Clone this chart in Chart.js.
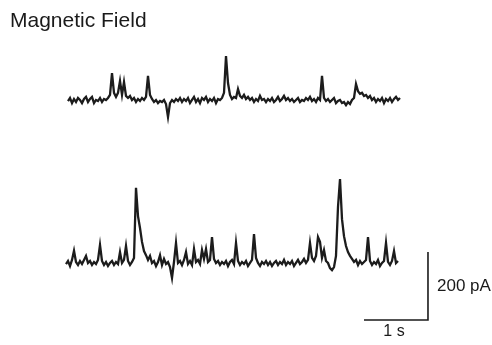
<!DOCTYPE html>
<html>
<head>
<meta charset="utf-8">
<script src="https://cdn.jsdelivr.net/npm/chart.js@4/dist/chart.umd.min.js"></script>
<style>
  html, body { margin: 0; padding: 0; background: #ffffff; }
  #wrap { width: 492px; height: 345px; position: relative; }
</style>
</head>
<body>
<div id="wrap"><canvas id="c" width="492" height="345"></canvas></div>
<script>
// ---- data (time in s, current in pA) ----
const titleText = "Magnetic Field";
const sampleInterval = 0.03125;      // s between samples
const topTraceStart = 0.03125;       // s
const bottomTraceStart = 0;          // s

// upper trace, current relative to its own baseline (pA)
const topTrace = [
  0, 9, -6, 6, -3, 9, 3, -6, 6, 12,
  -3, 6, 12, -6, 3, 0, 9, -3, 6, 3,
  9, 18, 82, 24, 12, 24, 59, 18, 56, 15,
  9, 15, 3, 9, -3, 6, 0, 9, 3, 12,
  74, 18, 6, -3, 3, -6, 0, -3, 3, -9,
  -47, -6, 3, -3, 6, 0, 9, -3, 6, 0,
  9, -6, 3, 12, -3, 6, -6, 9, 3, 12,
  -3, 6, 0, 9, -6, 6, 3, 9, 24, 132,
  53, 18, 6, 12, 9, 35, 15, 9, 18, 6,
  12, 3, 9, -3, 6, 0, 15, 3, 6, -3,
  6, 0, 9, -3, 3, 12, 0, 6, 15, 3,
  9, 0, 6, -3, 3, 9, -3, 3, 0, 9,
  3, 12, 0, 6, -3, 9, 3, 74, 9, 0,
  6, -3, 3, 9, -6, 0, 3, -6, -3, -12,
  -3, -9, 3, 9, 50, 29, 21, 24, 15, 18,
  9, 15, 3, 9, -3, 6, 0, 9, -6, 6,
  0, 9, -3, 6, 12, 3, 9
];

// lower trace, current relative to its own baseline (pA)
const bottomTrace = [
  0, 9, -6, 12, 39, 6, -3, 9, 0, 12,
  24, 3, 9, -3, 6, 0, 12, 56, 9, -3,
  6, -6, 3, 9, -3, 6, 0, 35, 3, 12,
  53, 9, -3, 6, 18, 224, 141, 106, 65, 38,
  26, 12, 24, 3, 9, -6, 6, 26, -3, 15,
  0, 6, -9, -41, 6, 62, 3, 9, -3, 12,
  35, 0, 9, -3, 44, 6, 12, 0, 41, 15,
  44, 6, 12, 79, 15, 3, 9, -3, 6, 0,
  9, -6, 6, 12, 0, 62, 9, -3, 6, 0,
  9, -6, 3, 12, 88, 18, 3, -6, 6, 0,
  9, -3, 6, -6, 3, 9, -3, 6, 0, 12,
  -3, 6, 0, 9, -6, 3, 12, 0, 6, 15,
  3, 12, 62, 18, 9, 24, 79, 65, 18, 41,
  9, 3, -12, -18, -9, 24, 168, 250, 132, 82,
  53, 35, 24, 15, 6, 12, -3, 9, 0, 6,
  12, 79, 9, -3, 6, 0, 12, -6, 3, 9,
  62, 6, -3, 9, 38, 3, 9
];

// scale bar
const scaleBarTime = 1;          // s
const scaleBarCurrent = 200;     // pA
const scaleBarTimeLabel = "1 s";
const scaleBarCurrentLabel = "200 pA";
const scaleBarEndTime = 5.656;   // s (right end of horizontal bar)
const scaleBarBottom = -164.7;   // pA on lower trace axis

// ---- build datasets ----
function toPoints(values, start) {
  return values.map((v, i) => ({ x: start + i * sampleInterval, y: v }));
}

const traceColor = '#1c1c1c';

const scaleBarPoints = [
  { x: scaleBarEndTime - scaleBarTime, y: scaleBarBottom },
  { x: scaleBarEndTime, y: scaleBarBottom },
  { x: scaleBarEndTime, y: scaleBarBottom + scaleBarCurrent }
];

const textPlugin = {
  id: 'texts',
  afterDraw(chart) {
    const ctx = chart.ctx;
    const xs = chart.scales.x, yb = chart.scales.yBottom;
    ctx.save();
    ctx.fillStyle = '#1a1a1a';
    ctx.font = '21px "Liberation Sans", Arial, sans-serif';
    ctx.textAlign = 'left';
    ctx.textBaseline = 'alphabetic';
    ctx.fillText(titleText, 10, 27);

    const bx = xs.getPixelForValue(scaleBarEndTime);
    const byTop = yb.getPixelForValue(scaleBarBottom + scaleBarCurrent);
    const byBot = yb.getPixelForValue(scaleBarBottom);
    ctx.font = '17px "Liberation Sans", Arial, sans-serif';
    ctx.textBaseline = 'middle';
    ctx.fillText(scaleBarCurrentLabel, bx + 9, (byTop + byBot) / 2);

    const bxl = xs.getPixelForValue(scaleBarEndTime - scaleBarTime);
    ctx.textAlign = 'center';
    ctx.textBaseline = 'top';
    ctx.font = '16px "Liberation Sans", Arial, sans-serif';
    ctx.fillText(scaleBarTimeLabel, (bx + bxl) / 2 - 2, byBot + 4);
    ctx.restore();
  }
};

new Chart(document.getElementById('c'), {
  type: 'line',
  data: {
    datasets: [
      {
        data: toPoints(topTrace, topTraceStart),
        yAxisID: 'yTop',
        borderColor: traceColor,
        borderWidth: 2.3
      },
      {
        data: toPoints(bottomTrace, bottomTraceStart),
        yAxisID: 'yBottom',
        borderColor: traceColor,
        borderWidth: 2.3
      },
      {
        data: scaleBarPoints,
        yAxisID: 'yBottom',
        borderColor: '#1a1a1a',
        borderWidth: 1.6,
        borderJoinStyle: 'miter'
      }
    ]
  },
  options: {
    responsive: false,
    animation: false,
    parsing: false,
    layout: { padding: 0 },
    elements: {
      point: { radius: 0, hoverRadius: 0 },
      line: { tension: 0, fill: false }
    },
    plugins: {
      legend: { display: false },
      title: { display: false },
      tooltip: { enabled: false }
    },
    events: [],
    scales: {
      x: { type: 'linear', display: false, min: -1.03125, max: 6.65625 },
      yTop: { type: 'linear', display: false, min: -717.6, max: 297.1 },
      yBottom: { type: 'linear', display: false, min: -238.2, max: 776.5 }
    }
  },
  plugins: [textPlugin]
});
</script>
</body>
</html>
